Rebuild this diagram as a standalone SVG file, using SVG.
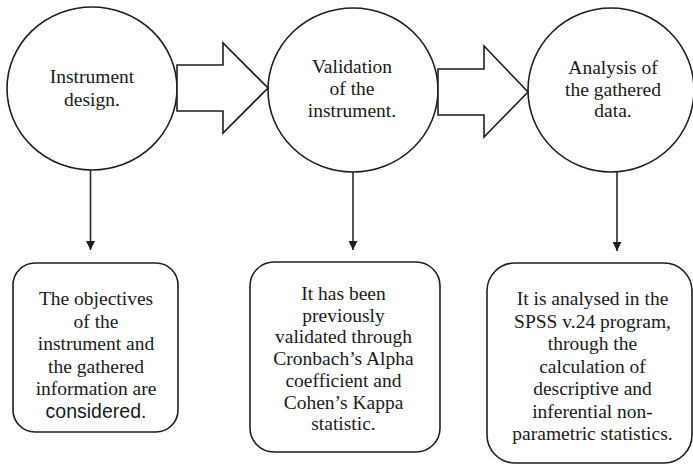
<svg xmlns="http://www.w3.org/2000/svg" width="693" height="464" viewBox="0 0 693 464">
<defs>
<style>
.shape{fill:#fff;stroke:#1e1e1e;stroke-width:1.6}
.conn{fill:none;stroke:#2a2a2a;stroke-width:1.6}
.t{font-family:"Liberation Serif","Times New Roman",serif;font-size:19.5px;fill:#1a1a1a;text-anchor:middle}
.s{font-family:"Liberation Sans",Arial,sans-serif;font-size:19.5px;fill:#1a1a1a;text-anchor:middle}
</style>
<marker id="ah" viewBox="0 0 10 10" refX="10" refY="5" markerWidth="9" markerHeight="9" markerUnits="userSpaceOnUse" orient="auto">
<path d="M0,0 L10,5 L0,10 z" fill="#1e1e1e"/>
</marker>
</defs>
<rect width="693" height="464" fill="#fff"/>
<g id="node-design">
<ellipse class="shape" cx="92" cy="88.5" rx="85" ry="81.5"/>
<text class="t" x="92" y="83">Instrument</text>
<text class="t" x="92" y="106">design.</text>
</g>
<g id="node-validation">
<ellipse class="shape" cx="353" cy="90" rx="85" ry="82"/>
<text class="t" x="352" y="73">Validation</text>
<text class="t" x="352" y="95">of the</text>
<text class="t" x="352" y="117">instrument.</text>
</g>
<g id="node-analysis">
<ellipse class="shape" cx="611" cy="90" rx="83" ry="82"/>
<text class="t" x="613" y="74">Analysis of</text>
<text class="t" x="613" y="95.5">the gathered</text>
<text class="t" x="613" y="117">data.</text>
</g>
<g id="node-box1">
<rect class="shape" x="13" y="263" width="165" height="169" rx="22"/>
<text class="t" x="96" y="305">The objectives</text>
<text class="t" x="96" y="327.5">of the</text>
<text class="t" x="96" y="350">instrument and</text>
<text class="t" x="96" y="372.5">the gathered</text>
<text class="t" x="96" y="395">information are</text>
<text class="s" x="96" y="418">considered.</text>
</g>
<g id="node-box2">
<rect class="shape" x="250" y="262" width="190" height="190" rx="24"/>
<text class="t" x="343.5" y="300">It has been</text>
<text class="t" x="343.5" y="321.7">previously</text>
<text class="t" x="343.5" y="343.4">validated through</text>
<text class="t" x="343.5" y="365">Cronbach’s Alpha</text>
<text class="t" x="343.5" y="386.8">coefficient and</text>
<text class="t" x="343.5" y="408.5">Cohen’s Kappa</text>
<text class="t" x="343.5" y="430">statistic.</text>
</g>
<g id="node-box3">
<rect class="shape" x="487" y="263" width="205" height="200" rx="28"/>
<text class="t" x="592.5" y="305">It is analysed in the</text>
<text class="t" x="592.5" y="327.5">SPSS v.24 program,</text>
<text class="t" x="592.5" y="350">through the</text>
<text class="t" x="592.5" y="372.5">calculation of</text>
<text class="t" x="592.5" y="395">descriptive and</text>
<text class="t" x="592.5" y="417.5">inferential non-</text>
<text class="t" x="592.5" y="440">parametric statistics.</text>
</g>
<g id="connectors">
<polygon class="shape" points="177,65 223,65 223,43 268,88 223,133 223,111 177,111"/>
<polygon class="shape" points="438,69 484,69 484,46 528,92 484,137 484,115 438,115"/>
<line class="conn" x1="90.5" y1="170" x2="90.5" y2="250" marker-end="url(#ah)"/>
<line class="conn" x1="353" y1="172" x2="353" y2="250" marker-end="url(#ah)"/>
<line class="conn" x1="617" y1="172" x2="617" y2="251" marker-end="url(#ah)"/>
</g>
</svg>
